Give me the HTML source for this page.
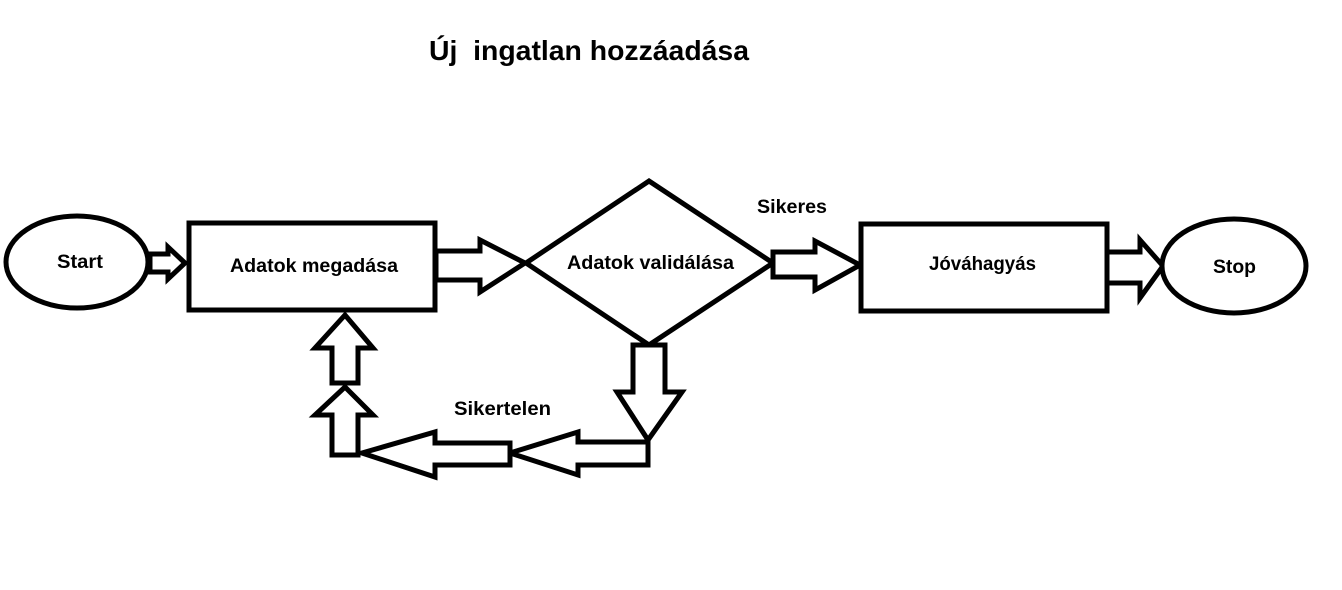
<!DOCTYPE html>
<html><head><meta charset="utf-8"><style>
html,body{margin:0;padding:0;background:#fff;width:1342px;height:590px;overflow:hidden}
svg{display:block}
text{font-family:"Liberation Sans",sans-serif;font-weight:bold;fill:#000}
</style></head><body>
<svg width="1342" height="590" viewBox="0 0 1342 590" xmlns="http://www.w3.org/2000/svg">
<g fill="#fff" stroke="#000" stroke-width="5" stroke-linejoin="miter">
<ellipse cx="77" cy="262" rx="71" ry="46"/>
<polygon points="150,254 168,254 168,247 185,263 168,279 168,272 150,272"/>
<rect x="189" y="223" width="246" height="87"/>
<polygon points="436,251 480,251 480,240 525,263 480,292 480,280 436,280"/>
<polygon points="649,181 773,263 649,345 526,263"/>
<polygon points="773,252 815,252 815,241 860,265 815,290 815,277 773,277"/>
<rect x="861" y="224" width="246" height="87"/>
<polygon points="1107,252 1140,252 1140,240 1163,266 1140,298 1140,283 1107,283"/>
<ellipse cx="1234" cy="266" rx="72" ry="47"/>
<polygon points="633,345 665,345 665,392 682,392 648,440 617,392 633,392"/>
<polygon points="648,442 648,465 578,465 578,475 510,453 578,432 578,442"/>
<polygon points="510,443 510,465 435,465 435,477 362,453 435,432 435,443"/>
<polygon points="332,455 358,455 358,415 373,415 345,387 315,415 332,415"/>
<polygon points="332,383 358,383 358,348 373,348 345,315 315,348 332,348"/>
</g>
<text x="429" y="60" font-size="28" textLength="320" lengthAdjust="spacingAndGlyphs" xml:space="preserve">Új  ingatlan hozzáadása</text>
<text x="57" y="268" font-size="19" textLength="46" lengthAdjust="spacingAndGlyphs">Start</text>
<text x="230" y="272" font-size="19" textLength="168" lengthAdjust="spacingAndGlyphs">Adatok megadása</text>
<text x="567" y="269" font-size="19" textLength="167" lengthAdjust="spacingAndGlyphs">Adatok validálása</text>
<text x="757" y="213" font-size="19" textLength="70" lengthAdjust="spacingAndGlyphs">Sikeres</text>
<text x="929" y="270" font-size="19" textLength="107" lengthAdjust="spacingAndGlyphs">Jóváhagyás</text>
<text x="1213" y="273" font-size="19" textLength="43" lengthAdjust="spacingAndGlyphs">Stop</text>
<text x="454" y="415" font-size="19" textLength="97" lengthAdjust="spacingAndGlyphs">Sikertelen</text>
</svg>
</body></html>
